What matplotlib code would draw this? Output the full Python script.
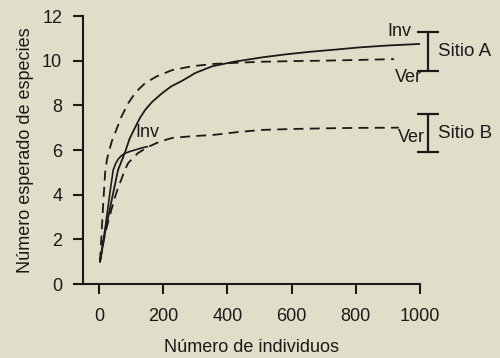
import matplotlib
matplotlib.use("Agg")
import matplotlib.pyplot as plt

plt.rcParams['font.family'] = ['Liberation Sans', 'DejaVu Sans']

BG = '#e0ddc8'
INK = '#1a1a1a'

# Site A, winter (Inv) - solid
a_inv_x = [3, 20, 40, 59, 70, 81, 95, 112, 128, 144, 165, 197, 225, 259, 300, 353,
           420, 509, 580, 659, 740, 816, 900, 1000]
a_inv_y = [1.0, 2.4, 3.8, 5.1, 5.5, 5.9, 6.5, 7.0, 7.45, 7.8, 8.15, 8.55, 8.85, 9.1,
           9.45, 9.75, 9.95, 10.15, 10.28, 10.4, 10.5, 10.6, 10.68, 10.75]
# Site A, summer (Ver) - dashed
a_ver_x = [3, 8, 13, 19, 25, 32, 40, 50, 70, 91, 115, 144, 180, 228, 290, 353, 420,
           503, 600, 700, 800, 919]
a_ver_y = [1.0, 2.3, 3.6, 5.0, 5.6, 6.0, 6.4, 6.76, 7.5, 8.1, 8.6, 9.0, 9.3, 9.58,
           9.75, 9.85, 9.9, 9.95, 9.98, 10.0, 10.03, 10.07]
# Site B, winter (Inv) - solid
b_inv_x = [3, 20, 35, 44, 52, 60, 70, 80, 95, 112, 130, 150]
b_inv_y = [1.0, 2.6, 4.2, 5.1, 5.4, 5.6, 5.75, 5.85, 5.93, 6.0, 6.08, 6.15]
# Site B, summer (Ver) - dashed
b_ver_x = [3, 15, 25, 38, 50, 60, 70, 80, 91, 120, 153, 190, 228, 290, 353, 430,
           509, 600, 700, 800, 934]
b_ver_y = [1.0, 2.0, 2.6, 3.3, 3.9, 4.35, 4.7, 5.1, 5.42, 5.85, 6.14, 6.38, 6.54,
           6.62, 6.67, 6.8, 6.9, 6.94, 6.97, 6.99, 7.0]

# Range bars per site
site_labels = ['Sitio A', 'Sitio B']
site_low = [9.55, 5.9]
site_high = [11.3, 7.6]

x_ticks = [0, 200, 400, 600, 800, 1000]
y_ticks = [0, 2, 4, 6, 8, 10, 12]

fig = plt.figure(figsize=(5.0, 3.58), dpi=100, facecolor=BG)
ax = fig.add_axes([0.166, 0.2067, 0.674, 0.7486], facecolor=BG)

dash = (0, (5.5, 3.5))
ax.plot(a_inv_x, a_inv_y, color=INK, lw=1.3)
ax.plot(a_ver_x, a_ver_y, color=INK, lw=1.3, linestyle=dash)
ax.plot(b_inv_x, b_inv_y, color=INK, lw=1.2)
ax.plot(b_ver_x, b_ver_y, color=INK, lw=1.3, linestyle=dash)

fs_lab = 13
ax.text(935, 11.3, 'Inv', fontsize=fs_lab, color=INK, ha='center', va='center')
ax.text(965, 9.25, 'Ver', fontsize=fs_lab, color=INK, ha='center', va='center')
ax.text(972, 6.55, 'Ver', fontsize=fs_lab, color=INK, ha='center', va='center')
ax.text(150, 6.8, 'Inv', fontsize=fs_lab, color=INK, ha='center', va='center')

bar_x = 1025
for lab, lo, hi in zip(site_labels, site_low, site_high):
    mid = (lo + hi) / 2
    ax.errorbar([bar_x], [mid], yerr=[[mid - lo], [hi - mid]], fmt='none',
                ecolor=INK, elinewidth=1.6, capsize=8, capthick=1.6, clip_on=False)
    ax.text(bar_x + 30, mid, lab, fontsize=13.5, color=INK, ha='left', va='center')

ax.set_xlim(-50, 1000)
ax.set_ylim(0, 12)
ax.set_xticks(x_ticks)
ax.set_yticks(y_ticks)
for s in ['top', 'right']:
    ax.spines[s].set_visible(False)
for s in ['left', 'bottom']:
    ax.spines[s].set_linewidth(1.5)
    ax.spines[s].set_color(INK)
ax.tick_params(axis='x', length=7, width=1.5, pad=10, labelsize=13, colors=INK)
ax.tick_params(axis='y', length=7, width=1.5, pad=8, labelsize=13, colors=INK)
ax.set_xlabel('Número de individuos', fontsize=13, color=INK, labelpad=10)
ax.set_ylabel('Número esperado de especies', fontsize=13, color=INK, labelpad=6)

fig.savefig('out.png', dpi=100, facecolor=BG)
